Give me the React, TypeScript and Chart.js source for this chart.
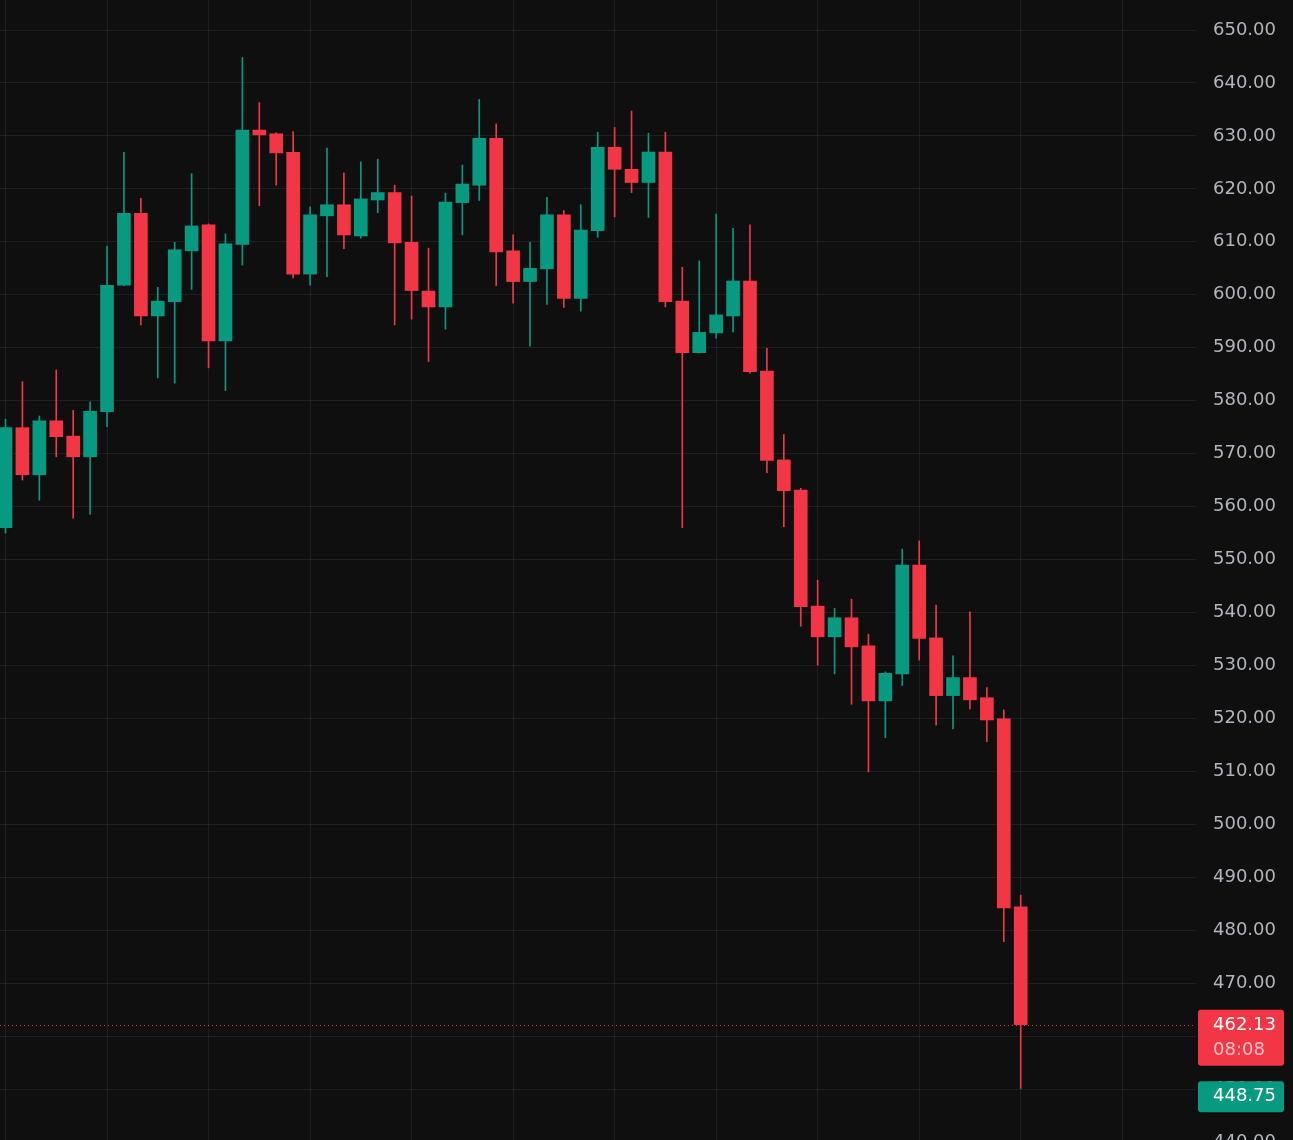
import React, { useEffect, useRef } from 'react';
import { Chart, registerables } from 'chart.js';

Chart.register(...registerables);

const opens = [
  556.0, 574.9, 566.0, 576.2, 573.3, 569.4, 577.9, 601.8, 615.4, 596.0,
  598.7, 608.3, 613.2, 591.3, 609.5, 631.1, 630.4, 626.9, 603.9, 614.9,
  617.0, 611.1, 617.9, 619.3, 609.9, 600.7, 597.7, 617.4, 620.7, 629.55,
  608.3, 602.5, 604.9, 615.1, 599.3, 612.1, 627.85, 623.7, 621.2, 626.96,
  598.8, 589.06, 592.8, 596.0, 602.6, 585.6, 568.8, 563.1, 541.2, 535.4,
  539.0, 533.7, 523.3, 528.4, 548.96, 535.2, 524.3, 527.7, 523.9, 519.9,
  484.4,
];
const highs = [
  576.5, 583.6, 577.1, 585.8, 578.2, 579.8, 609.2, 626.9, 618.2, 601.4,
  609.9, 622.9, 613.4, 611.5, 644.8, 636.3, 630.6, 630.8, 616.6, 627.7,
  623.05, 625.1, 625.6, 620.7, 618.65, 608.8, 619.2, 624.5, 636.9, 632.25,
  611.3, 609.9, 618.4, 615.9, 617.0, 630.7, 631.6, 634.7, 630.5, 630.7,
  605.2, 606.4, 615.25, 612.55, 613.2, 589.9, 573.6, 563.45, 546.1, 540.8,
  542.5, 535.9, 528.8, 551.98, 553.5, 541.4, 531.8, 540.1, 525.8, 521.6,
  486.6,
];
const lows = [
  555.0, 565.0, 561.2, 569.4, 557.8, 558.5, 575.1, 601.7, 594.3, 584.3,
  583.3, 601.0, 586.2, 581.9, 605.6, 616.8, 620.7, 603.2, 601.8, 603.4,
  608.7, 610.7, 615.5, 594.3, 595.4, 587.4, 593.5, 611.3, 617.8, 601.7,
  598.4, 590.3, 598.2, 597.6, 596.9, 610.85, 614.7, 619.3, 614.6, 597.7,
  556.0, 589.0, 591.8, 593.0, 585.2, 566.4, 556.2, 537.4, 530.1, 528.4,
  522.65, 509.9, 516.35, 526.2, 531.0, 518.7, 518.0, 521.8, 515.6, 477.8,
  450.1,
];
const closes = [
  574.9, 566.0, 576.2, 573.2, 569.4, 578.0, 601.8, 615.4, 596.0, 598.8,
  608.5, 613.0, 591.3, 609.6, 631.1, 630.2, 626.8, 603.9, 615.1, 617.0,
  611.3, 618.1, 619.3, 609.8, 600.8, 597.7, 617.5, 620.9, 629.55, 608.1,
  602.5, 605.0, 615.1, 599.3, 612.2, 627.85, 623.7, 621.2, 626.96, 598.7,
  589.06, 592.9, 596.2, 602.6, 585.5, 568.7, 563.0, 541.1, 535.4, 539.0,
  533.5, 523.3, 528.5, 548.96, 535.1, 524.3, 527.7, 523.5, 519.7, 484.2,
  462.13,
];
const yTickValues = [
  440, 450, 460, 470, 480, 490, 500, 510, 520, 530, 540, 550, 560, 570,
  580, 590, 600, 610, 620, 630, 640, 650,
];
const xGridIndexes = [0, 6, 12, 18, 24, 30, 36, 42, 48, 54, 60, 66];
const lastPrice = 462.13;
const countdownLabel = '08:08';
const secondPrice = 448.75;

const UP = '#089981';
const DOWN = '#f23645';
const BG = '#0f0f0f';
const GRID = 'rgba(255,255,255,0.065)';
const TEXT = '#b2b5be';
const FONT_FAMILY = '"DejaVu Sans", sans-serif';

function roundRect(ctx: CanvasRenderingContext2D, x: number, y: number, w: number, h: number, r: number) {
  ctx.beginPath();
  ctx.moveTo(x + r, y);
  ctx.lineTo(x + w - r, y);
  ctx.quadraticCurveTo(x + w, y, x + w, y + r);
  ctx.lineTo(x + w, y + h - r);
  ctx.quadraticCurveTo(x + w, y + h, x + w - r, y + h);
  ctx.lineTo(x + r, y + h);
  ctx.quadraticCurveTo(x, y + h, x, y + h - r);
  ctx.lineTo(x, y + r);
  ctx.quadraticCurveTo(x, y, x + r, y);
  ctx.closePath();
}

const overlayPlugin = {
  id: 'overlay',
  beforeDraw(chart: any) {
    const { ctx, width, height } = chart;
    ctx.save();
    ctx.fillStyle = BG;
    ctx.fillRect(0, 0, width, height);
    ctx.restore();
  },
  beforeDatasetsDraw(chart: any) {
    const { ctx, chartArea } = chart;
    const py = Math.round(chart.scales.y.getPixelForValue(lastPrice)) + 0.5;
    ctx.save();
    ctx.strokeStyle = 'rgba(242,54,69,0.9)';
    ctx.lineWidth = 1;
    ctx.setLineDash([1, 3]);
    ctx.beginPath();
    ctx.moveTo(chartArea.left, py);
    ctx.lineTo(chartArea.right, py);
    ctx.stroke();
    ctx.restore();
  },
  afterDraw(chart: any) {
    const { ctx, chartArea } = chart;
    const ys = chart.scales.y;
    const bx = chartArea.right + 2;
    const bw = 86;
    const py = ys.getPixelForValue(lastPrice);
    const pb = ys.getPixelForValue(secondPrice);
    ctx.save();
    ctx.font = `18px ${FONT_FAMILY}`;
    ctx.textBaseline = 'middle';
    ctx.textAlign = 'left';
    ctx.fillStyle = DOWN;
    roundRect(ctx, bx, py - 15, bw, 56, 3);
    ctx.fill();
    ctx.fillStyle = '#ffffff';
    ctx.fillText(lastPrice.toFixed(2), bx + 15, py + 1);
    ctx.fillStyle = 'rgba(255,255,255,0.7)';
    ctx.fillText(countdownLabel, bx + 15, py + 26);
    ctx.fillStyle = UP;
    roundRect(ctx, bx, pb - 14.5, bw, 31, 3);
    ctx.fill();
    ctx.fillStyle = '#ffffff';
    ctx.fillText(secondPrice.toFixed(2), bx + 15, pb + 1);
    ctx.restore();
  },
};

export default function App() {
  const ref = useRef<HTMLCanvasElement>(null);

  useEffect(() => {
    const idx = opens.map((_, i) => i);
    const colors = idx.map((i) => (closes[i] >= opens[i] ? UP : DOWN));
    const chart = new Chart(ref.current as HTMLCanvasElement, {
      type: 'bar',
      data: {
        datasets: [
          {
            label: 'body',
            data: idx.map((i) => ({ x: i, y: [opens[i], closes[i]] })) as any,
            backgroundColor: colors,
            barThickness: 13,
            grouped: false,
            borderWidth: 0,
            minBarLength: 2,
          } as any,
          {
            label: 'wick',
            data: idx.map((i) => ({ x: i, y: [lows[i], highs[i]] })) as any,
            backgroundColor: colors,
            barThickness: 1,
            grouped: false,
            borderWidth: 0,
          } as any,
        ],
      },
      options: {
        responsive: false,
        maintainAspectRatio: false,
        animation: false,
        layout: { padding: 0 },
        plugins: {
          legend: { display: false },
          tooltip: { enabled: false },
        },
        scales: {
          x: {
            type: 'linear',
            min: -0.325,
            max: 70.36,
            offset: false,
            afterBuildTicks: (s: any) => {
              s.ticks = xGridIndexes.map((v) => ({ value: v }));
            },
            afterFit: (s: any) => {
              s.height = 0;
              s.paddingLeft = 0;
              s.paddingRight = 0;
            },
            ticks: { display: false },
            grid: { color: GRID, drawTicks: false, offset: false },
            border: { display: false },
          },
          y: {
            type: 'linear',
            position: 'right',
            min: 440.37,
            max: 655.67,
            afterBuildTicks: (s: any) => {
              s.ticks = yTickValues.map((v) => ({ value: v }));
            },
            afterFit: (s: any) => {
              s.width = 97;
              s.paddingTop = 0;
              s.paddingBottom = 0;
            },
            ticks: {
              color: TEXT,
              autoSkip: false,
              padding: 17,
              font: { family: FONT_FAMILY, size: 18 },
              callback: (v: any) => Number(v).toFixed(2),
            },
            grid: { color: GRID, drawTicks: false, offset: false },
            border: { display: false },
          },
        },
      } as any,
      plugins: [overlayPlugin],
    });
    return () => chart.destroy();
  }, []);

  return (
    <div style={{ position: 'fixed', left: 0, top: 0, width: 1293, height: 1140, background: BG }}>
      <canvas ref={ref} width={1293} height={1140} style={{ display: 'block', width: 1293, height: 1140 }} />
    </div>
  );
}
